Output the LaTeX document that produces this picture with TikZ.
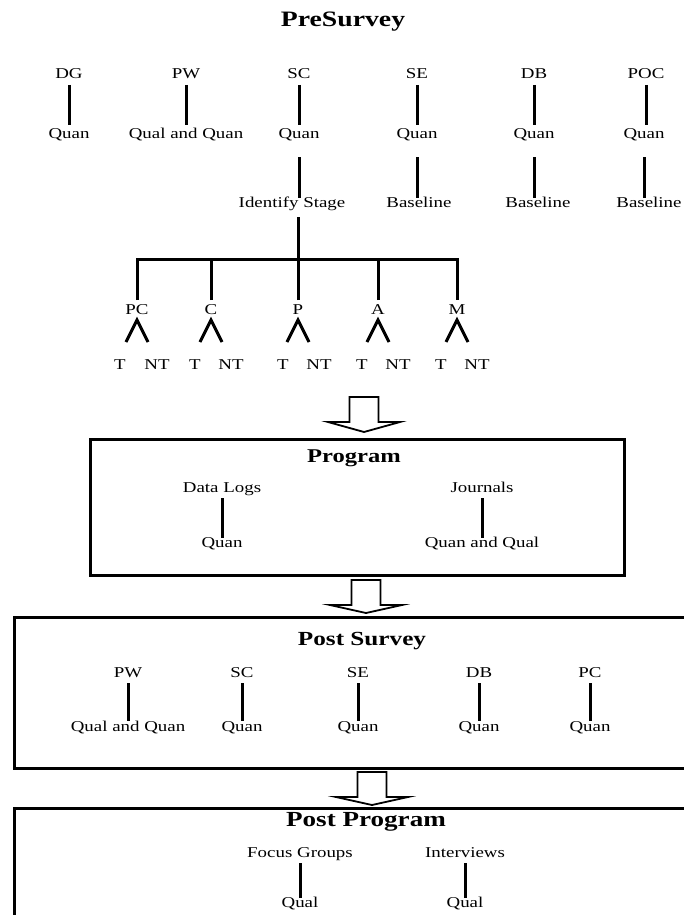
\documentclass[tikz,border=0pt]{standalone}
\usepackage{fontspec}
\setmainfont{Liberation Serif}[FakeStretch=1.26]
\usetikzlibrary{calc}
\tikzset{
  lbl/.style={font=\fontsize{15}{17}\selectfont, text height=11pt, text depth=3pt, inner sep=3pt, outer sep=0pt},
  heading/.style={font=\fontsize{#1}{#1}\selectfont\bfseries, inner sep=0pt},
  heading/.default=20,
  link/.style={line width=3pt},
  frame/.style={line width=3pt},
  fat arrow/.style={line width=1.8pt, line join=miter, fill=white},
}
\newcommand{\stagearrow}[4]{%
  \draw[fat arrow] (#1-14.5,#2) -- (#1+14.5,#2) -- (#1+14.5,#3) -- (#1+36,#3) -- (#1,#4)
    -- (#1-36,#3) -- (#1-14.5,#3) -- cycle;}
\begin{document}
\begin{tikzpicture}[x=1pt, y=-1pt]
   \useasboundingbox (0,0) rectangle (684,915);
   \clip (0,0) rectangle (684,915);
   \node[heading=22] (presurvey) at (343,22) {PreSurvey};
   \node[lbl] (dg) at (69,75) {DG};
   \node[lbl] (pw) at (186,75) {PW};
   \node[lbl] (sc) at (299,75) {SC};
   \node[lbl] (se) at (417,75) {SE};
   \node[lbl] (db) at (534,75) {DB};
   \node[lbl] (poc) at (646,75) {POC};
   \node[lbl] (dgq) at (69,135) {Quan};
   \node[lbl] (pwq) at (186,135) {Qual and Quan};
   \node[lbl] (scq) at (299,135) {Quan};
   \node[lbl] (seq) at (417,135) {Quan};
   \node[lbl] (dbq) at (534,135) {Quan};
   \node[lbl] (pocq) at (644,135) {Quan};
   \node[lbl] (ident) at (292,203) {Identify Stage};
   \node[lbl] (sebl) at (419,203) {Baseline};
   \node[lbl] (dbbl) at (538,203) {Baseline};
   \node[lbl] (pocbl) at (649,203) {Baseline};
   \draw[link] (dg.south) -- (dgq.north);
   \draw[link] (pw.south) -- (pwq.north);
   \draw[link] (sc.south) -- (scq.north);
   \draw[link] (se.south) -- (seq.north);
   \draw[link] (db.south) -- (dbq.north);
   \draw[link] (poc.south) -- (poc.south |- pocq.north);
   \draw[link, shorten <=12pt, shorten >=-5pt] (scq.south) -- (scq.south |- ident.north);
   \draw[link, shorten <=12pt, shorten >=-5pt] (seq.south) -- (seq.south |- sebl.north);
   \draw[link, shorten <=12pt, shorten >=-5pt] (dbq.south) -- (dbq.south |- dbbl.north);
   \draw[link, shorten <=12pt, shorten >=-5pt] (pocq.south) -- (pocq.south |- pocbl.north);
   \coordinate (bar) at (298,259);
   \node[lbl] (pc) at (137,310) {PC};
   \node[lbl] (c) at (211,310) {C};
   \node[lbl] (p) at (298,310) {P};
   \node[lbl] (a) at (378,310) {A};
   \node[lbl] (m) at (457,310) {M};
   \draw[link, shorten <=4pt] (ident.south -| bar) -- (bar);
   \draw[link] (pc.north) |- (bar) -| (m.north);
   \draw[link] (c.north) -- (c.north |- bar);
   \draw[link] (p.north) -- (p.north |- bar);
   \draw[link] (a.north) -- (a.north |- bar);
   \draw[link] ($(pc.south)+(-11,22)$) -- (pc.south) -- ($(pc.south)+(11,22)$);
   \draw[link] ($(c.south)+(-11,22)$) -- (c.south) -- ($(c.south)+(11,22)$);
   \draw[link] ($(p.south)+(-11,22)$) -- (p.south) -- ($(p.south)+(11,22)$);
   \draw[link] ($(a.south)+(-11,22)$) -- (a.south) -- ($(a.south)+(11,22)$);
   \draw[link] ($(m.south)+(-11,22)$) -- (m.south) -- ($(m.south)+(11,22)$);
   \node[lbl] (pct) at (120,365) {T};
   \node[lbl] (pcnt) at (157,365) {NT};
   \node[lbl] (ct) at (195,365) {T};
   \node[lbl] (cnt) at (231,365) {NT};
   \node[lbl] (pt) at (283,365) {T};
   \node[lbl] (pnt) at (319,365) {NT};
   \node[lbl] (at) at (362,365) {T};
   \node[lbl] (ant) at (398,365) {NT};
   \node[lbl] (mt) at (441,365) {T};
   \node[lbl] (mnt) at (477,365) {NT};
   \stagearrow{364}{397}{422}{432}
   \draw[frame] (90,439) rectangle (624,575);
   \node[heading=19.5] (program) at (354,458) {Program};
   \node[lbl] (datalogs) at (222,488) {Data Logs};
   \node[lbl] (dlquan) at (222,543) {Quan};
   \node[lbl] (journals) at (482,488) {Journals};
   \node[lbl] (jquan) at (482,543) {Quan and Qual};
   \draw[link, shorten >=-5pt] (datalogs.south) -- (dlquan.north);
   \draw[link, shorten >=-5pt] (journals.south) -- (jquan.north);
   \stagearrow{366}{580}{605}{613}
   \draw[frame] (14,617) rectangle (692,768);
   \node[heading=20] (postsurvey) at (362,641) {Post Survey};
   \node[lbl] (pw2) at (128,673) {PW};
   \node[lbl] (sc2) at (242,673) {SC};
   \node[lbl] (se2) at (358,673) {SE};
   \node[lbl] (db2) at (479,673) {DB};
   \node[lbl] (pc2) at (590,673) {PC};
   \node[lbl] (pw2q) at (128,727) {Qual and Quan};
   \node[lbl] (sc2q) at (242,727) {Quan};
   \node[lbl] (se2q) at (358,727) {Quan};
   \node[lbl] (db2q) at (479,727) {Quan};
   \node[lbl] (pc2q) at (590,727) {Quan};
   \draw[link, shorten >=-4pt] (pw2.south) -- (pw2q.north);
   \draw[link, shorten >=-4pt] (sc2.south) -- (sc2q.north);
   \draw[link, shorten >=-4pt] (se2.south) -- (se2q.north);
   \draw[link, shorten >=-4pt] (db2.south) -- (db2q.north);
   \draw[link, shorten >=-4pt] (pc2.south) -- (pc2q.north);
   \stagearrow{372}{772}{797}{805}
   \draw[frame] (14,808) rectangle (692,930);
   \node[heading=21.5] (postprogram) at (366,822) {Post Program};
   \node[lbl] (focus) at (300,853) {Focus Groups};
   \node[lbl] (interviews) at (465,853) {Interviews};
   \node[lbl] (fqual) at (300,903) {Qual};
   \node[lbl] (iqual) at (465,903) {Qual};
   \draw[link, shorten >=-5pt] (focus.south) -- (fqual.north);
   \draw[link, shorten >=-5pt] (interviews.south) -- (iqual.north);
\end{tikzpicture}
\end{document}
